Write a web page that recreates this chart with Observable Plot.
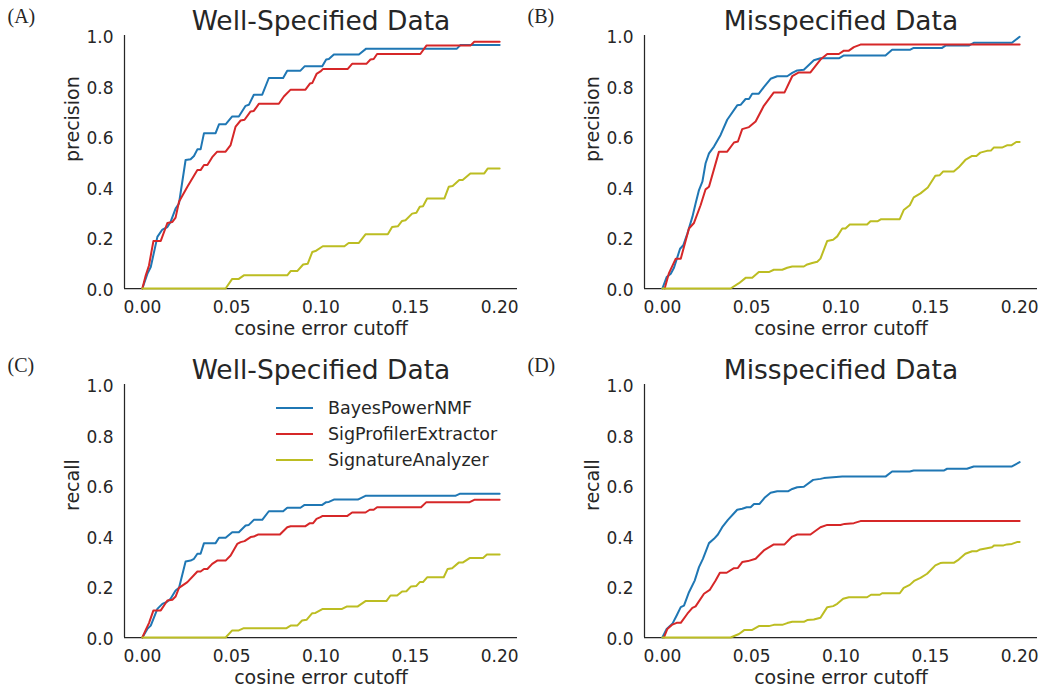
<!DOCTYPE html>
<html>
<head>
<meta charset="utf-8">
<script src="https://cdn.jsdelivr.net/npm/d3@7"></script>
<script src="https://cdn.jsdelivr.net/npm/@observablehq/plot@0.6"></script>
<style>
  html, body { margin: 0; padding: 0; background: #ffffff; }
  #wrap { position: relative; width: 1042px; height: 691px; overflow: hidden;
          font-family: "DejaVu Sans", sans-serif; color: #262626; }
  .panel { position: absolute; }
  .legend { position: absolute; left: 276px; top: 395px; font-family: "DejaVu Sans", sans-serif;
            font-size: 17.5px; color: #262626; }
  .legend .row { height: 26px; display: flex; align-items: center; white-space: nowrap; }
  .legend svg { margin-right: 15px; }
</style>
</head>
<body>
<div id="wrap"></div>
<script>
// ---------- data ----------
const seriesNames = ["BayesPowerNMF", "SigProfilerExtractor", "SignatureAnalyzer"];
const seriesColors = ["#1f77b4", "#d62728", "#bcbd22"];
const xTicks = [0, 0.05, 0.10, 0.15, 0.20];
const yTicks = [0, 0.2, 0.4, 0.6, 0.8, 1.0];
const xDomain = [-0.01, 0.21];
const yDomain = [0, 1];
const panelTitles = ["Well-Specified Data", "Misspecified Data", "Well-Specified Data", "Misspecified Data"];
const panelTags = ["(A)", "(B)", "(C)", "(D)"];
const yLabels = ["precision", "precision", "recall", "recall"];
const xLabel = "cosine error cutoff";

// (A) precision, well-specified
const precWellBayes = [[0,0],[0.0028,0.058],[0.0047,0.085],[0.0084,0.204],[0.0112,0.233],[0.014,0.243],[0.0158,0.263],[0.0186,0.316],[0.0205,0.336],[0.0242,0.508],[0.027,0.511],[0.0289,0.524],[0.0308,0.55],[0.0326,0.55],[0.0345,0.614],[0.041,0.614],[0.0429,0.649],[0.0466,0.649],[0.0503,0.68],[0.054,0.68],[0.0578,0.722],[0.0596,0.726],[0.0624,0.766],[0.0671,0.766],[0.0708,0.832],[0.0788,0.832],[0.0811,0.861],[0.0885,0.861],[0.0908,0.878],[0.1007,0.878],[0.1029,0.905],[0.1044,0.907],[0.1072,0.925],[0.1212,0.925],[0.1253,0.948],[0.1761,0.948],[0.178,0.962],[0.2,0.962]];
const precWellSigProf = [[0,0],[0.0019,0.052],[0.0037,0.091],[0.0062,0.188],[0.0103,0.188],[0.014,0.259],[0.0168,0.263],[0.0186,0.28],[0.0205,0.343],[0.0252,0.402],[0.0308,0.468],[0.0326,0.468],[0.0345,0.488],[0.0364,0.488],[0.0391,0.519],[0.0419,0.541],[0.0466,0.541],[0.0494,0.567],[0.0522,0.64],[0.055,0.664],[0.0572,0.667],[0.0606,0.7],[0.0624,0.702],[0.0652,0.73],[0.0764,0.73],[0.0792,0.759],[0.083,0.786],[0.0913,0.786],[0.0938,0.81],[0.0951,0.812],[0.0975,0.848],[0.0997,0.858],[0.1012,0.868],[0.115,0.868],[0.1174,0.888],[0.1254,0.888],[0.1277,0.905],[0.1295,0.907],[0.1314,0.927],[0.1556,0.927],[0.159,0.96],[0.1836,0.96],[0.1858,0.975],[0.2,0.975]];
const precWellSigAn = [[0,0],[0.0466,0],[0.0503,0.038],[0.054,0.038],[0.0568,0.052],[0.0811,0.052],[0.083,0.069],[0.0867,0.069],[0.09,0.095],[0.0926,0.098],[0.0951,0.144],[0.0969,0.148],[0.101,0.167],[0.1131,0.167],[0.1155,0.18],[0.1212,0.18],[0.1249,0.214],[0.1374,0.214],[0.1398,0.243],[0.143,0.246],[0.1454,0.267],[0.1473,0.27],[0.151,0.296],[0.1534,0.299],[0.1553,0.323],[0.1571,0.325],[0.1594,0.356],[0.1691,0.356],[0.1715,0.402],[0.1737,0.405],[0.1774,0.429],[0.1793,0.429],[0.1836,0.455],[0.1914,0.455],[0.1933,0.474],[0.2,0.474]];

// (B) precision, misspecified
const precMisBayes = [[0,0],[0.0024,0.045],[0.0047,0.058],[0.0065,0.082],[0.0099,0.157],[0.0117,0.171],[0.014,0.217],[0.0168,0.283],[0.0186,0.336],[0.0205,0.389],[0.0224,0.422],[0.0242,0.495],[0.0261,0.534],[0.0289,0.561],[0.0326,0.607],[0.0363,0.667],[0.0419,0.724],[0.0438,0.726],[0.0466,0.749],[0.0485,0.749],[0.0503,0.77],[0.054,0.77],[0.0568,0.796],[0.0606,0.829],[0.0643,0.839],[0.0699,0.839],[0.0727,0.852],[0.0755,0.862],[0.0792,0.865],[0.0848,0.902],[0.0885,0.91],[0.0988,0.91],[0.1016,0.921],[0.1249,0.921],[0.1286,0.944],[0.1388,0.944],[0.1407,0.951],[0.1566,0.951],[0.1585,0.96],[0.1715,0.96],[0.1743,0.971],[0.1957,0.971],[0.2,0.995]];
const precMisSigProf = [[0.0013,0],[0.0037,0.061],[0.0075,0.118],[0.0103,0.118],[0.0149,0.237],[0.0177,0.259],[0.0214,0.329],[0.0242,0.392],[0.0261,0.402],[0.0317,0.541],[0.0363,0.541],[0.0401,0.577],[0.0423,0.581],[0.0447,0.63],[0.0485,0.638],[0.0522,0.66],[0.0568,0.722],[0.0624,0.775],[0.0684,0.775],[0.0727,0.839],[0.0764,0.854],[0.0829,0.854],[0.0885,0.905],[0.0923,0.927],[0.0988,0.927],[0.1016,0.94],[0.1044,0.94],[0.1072,0.954],[0.1109,0.964],[0.2,0.964]];
const precMisSigAn = [[0,0],[0.0382,0],[0.0429,0.021],[0.0466,0.042],[0.0503,0.042],[0.054,0.065],[0.0596,0.065],[0.0624,0.074],[0.0671,0.074],[0.0699,0.082],[0.0727,0.087],[0.0792,0.087],[0.0811,0.095],[0.0839,0.101],[0.0867,0.106],[0.0885,0.118],[0.0923,0.188],[0.0956,0.193],[0.0979,0.206],[0.1007,0.237],[0.1025,0.237],[0.1049,0.253],[0.1146,0.253],[0.1165,0.266],[0.1206,0.266],[0.1225,0.274],[0.1329,0.274],[0.1351,0.31],[0.1385,0.329],[0.1407,0.36],[0.1445,0.376],[0.1486,0.399],[0.1528,0.446],[0.1553,0.448],[0.1571,0.462],[0.1631,0.462],[0.1659,0.479],[0.1696,0.508],[0.1734,0.524],[0.1758,0.524],[0.178,0.537],[0.1817,0.544],[0.1839,0.545],[0.1855,0.557],[0.1901,0.557],[0.1929,0.566],[0.1953,0.566],[0.1981,0.579],[0.2,0.579]];

// (C) recall, well-specified
const recWellBayes = [[0,0],[0.0028,0.034],[0.0047,0.047],[0.0084,0.113],[0.0112,0.133],[0.014,0.142],[0.0158,0.153],[0.0186,0.186],[0.0205,0.196],[0.0242,0.3],[0.027,0.304],[0.0289,0.311],[0.0308,0.331],[0.0326,0.331],[0.0345,0.373],[0.041,0.373],[0.0429,0.394],[0.0466,0.394],[0.0503,0.416],[0.054,0.416],[0.0578,0.443],[0.0596,0.445],[0.0624,0.465],[0.0671,0.465],[0.0708,0.499],[0.0788,0.499],[0.0811,0.513],[0.0885,0.513],[0.0908,0.524],[0.1007,0.524],[0.1029,0.535],[0.1044,0.536],[0.1072,0.545],[0.1206,0.545],[0.1249,0.56],[0.1752,0.56],[0.1776,0.568],[0.2,0.568]];
const recWellSigProf = [[0,0],[0.0019,0.03],[0.0037,0.057],[0.0062,0.107],[0.0103,0.107],[0.014,0.146],[0.0168,0.149],[0.0186,0.162],[0.0205,0.196],[0.0252,0.219],[0.0308,0.261],[0.0326,0.261],[0.0345,0.271],[0.0364,0.271],[0.0391,0.291],[0.0419,0.304],[0.0466,0.304],[0.0494,0.324],[0.0531,0.37],[0.055,0.377],[0.0572,0.381],[0.0606,0.397],[0.0624,0.399],[0.0647,0.407],[0.077,0.407],[0.0811,0.436],[0.083,0.44],[0.0913,0.44],[0.0938,0.452],[0.0956,0.452],[0.0975,0.469],[0.0997,0.476],[0.1007,0.48],[0.1146,0.48],[0.1174,0.494],[0.1249,0.494],[0.1273,0.505],[0.1295,0.505],[0.1314,0.515],[0.156,0.515],[0.159,0.535],[0.1832,0.535],[0.1858,0.544],[0.2,0.544]];
const recWellSigAn = [[0,0],[0.0466,0],[0.0503,0.028],[0.054,0.028],[0.0568,0.037],[0.0807,0.037],[0.083,0.047],[0.0867,0.047],[0.0894,0.067],[0.0919,0.07],[0.0951,0.096],[0.0969,0.097],[0.101,0.113],[0.1118,0.113],[0.1146,0.123],[0.1206,0.123],[0.1249,0.144],[0.1366,0.144],[0.1389,0.166],[0.1426,0.166],[0.1454,0.182],[0.1478,0.183],[0.1504,0.202],[0.1534,0.204],[0.1553,0.219],[0.1571,0.219],[0.1594,0.238],[0.1687,0.238],[0.1709,0.271],[0.1734,0.274],[0.1771,0.296],[0.1793,0.296],[0.1832,0.314],[0.1907,0.314],[0.1929,0.328],[0.2,0.328]];

// (D) recall, misspecified
const recMisBayes = [[0,0],[0.0024,0.034],[0.0056,0.054],[0.008,0.087],[0.0103,0.12],[0.0121,0.126],[0.0149,0.179],[0.0181,0.225],[0.0205,0.278],[0.0227,0.311],[0.0261,0.373],[0.0289,0.39],[0.0311,0.407],[0.0335,0.436],[0.0367,0.465],[0.0401,0.491],[0.0419,0.505],[0.0447,0.509],[0.0472,0.515],[0.0494,0.515],[0.0513,0.528],[0.0544,0.528],[0.0572,0.552],[0.0606,0.572],[0.0643,0.578],[0.0703,0.578],[0.0727,0.587],[0.0755,0.594],[0.0792,0.596],[0.0844,0.623],[0.0885,0.627],[0.0904,0.63],[0.1007,0.636],[0.1249,0.636],[0.1286,0.656],[0.1385,0.656],[0.1407,0.66],[0.1575,0.66],[0.1594,0.667],[0.1705,0.667],[0.1743,0.676],[0.1957,0.676],[0.2,0.693]];
const recMisSigProf = [[0.0009,0],[0.0028,0.034],[0.0056,0.051],[0.008,0.058],[0.0103,0.058],[0.014,0.094],[0.0168,0.117],[0.0186,0.123],[0.0233,0.173],[0.0265,0.188],[0.0298,0.225],[0.0322,0.256],[0.036,0.256],[0.0401,0.274],[0.0423,0.275],[0.0447,0.298],[0.0479,0.302],[0.0522,0.311],[0.0568,0.344],[0.0624,0.368],[0.0684,0.368],[0.0727,0.399],[0.0755,0.407],[0.0829,0.407],[0.0885,0.436],[0.0923,0.445],[0.0997,0.445],[0.102,0.449],[0.1072,0.452],[0.1109,0.46],[0.2,0.46]];
const recMisSigAn = [[0,0],[0.0382,0],[0.0429,0.014],[0.046,0.03],[0.0503,0.03],[0.054,0.045],[0.0596,0.045],[0.0624,0.05],[0.0671,0.05],[0.0699,0.057],[0.0727,0.062],[0.0792,0.062],[0.0811,0.069],[0.0848,0.071],[0.0885,0.078],[0.0923,0.12],[0.0956,0.124],[0.0979,0.133],[0.1012,0.153],[0.1044,0.159],[0.1146,0.159],[0.1168,0.169],[0.1217,0.169],[0.123,0.175],[0.1329,0.175],[0.1351,0.196],[0.1385,0.208],[0.1412,0.225],[0.1445,0.236],[0.1482,0.252],[0.1528,0.285],[0.1556,0.294],[0.1571,0.295],[0.1631,0.295],[0.1659,0.308],[0.1696,0.331],[0.1734,0.341],[0.1761,0.341],[0.178,0.348],[0.1817,0.353],[0.1845,0.357],[0.1858,0.364],[0.191,0.364],[0.1929,0.368],[0.1957,0.37],[0.1985,0.377],[0.2,0.377]];

const panelSeries = [
  [precWellBayes, precWellSigProf, precWellSigAn],
  [precMisBayes, precMisSigProf, precMisSigAn],
  [recWellBayes, recWellSigProf, recWellSigAn],
  [recMisBayes, recMisSigProf, recMisSigAn]
];

// ---------- drawing ----------
const wrap = document.getElementById("wrap");
const panelLeft = [0, 520, 0, 520];
const panelTop = [0, 0, 349, 349];

panelSeries.forEach((series, p) => {
  const rows = [];
  series.forEach((pts, s) => pts.forEach(([x, y]) => rows.push({x, y, series: seriesNames[s]})));
  const chart = Plot.plot({
    width: 522,
    height: 340,
    marginLeft: 124,
    marginRight: 5,
    marginTop: 35,
    marginBottom: 52,
    style: {background: "transparent", color: "#262626", fontFamily: "DejaVu Sans, sans-serif", overflow: "visible"},
    x: {domain: xDomain, label: null},
    y: {domain: yDomain, label: null},
    color: {domain: seriesNames, range: seriesColors},
    marks: [
      Plot.axisX({ticks: xTicks, tickFormat: d3.format(".2f"), tickSize: 0, tickPadding: 12, fontSize: 17, label: null}),
      Plot.axisY({ticks: yTicks, tickFormat: d3.format(".1f"), tickSize: 0, tickPadding: 11, fontSize: 17, dy: 2, label: null}),
      Plot.ruleY([yDomain[0]], {stroke: "#262626", strokeWidth: 1.25}),
      Plot.ruleX([xDomain[0]], {stroke: "#262626", strokeWidth: 1.25}),
      Plot.line(rows, {x: "x", y: "y", z: "series", stroke: "series", strokeWidth: 2, curve: "linear"}),
      Plot.text([panelTitles[p]], {frameAnchor: "top", lineAnchor: "bottom", dy: -6, fontSize: 26.5, fill: "#262626"}),
      Plot.text([yLabels[p]], {frameAnchor: "left", rotate: -90, dx: -52, lineAnchor: "middle", fontSize: 19, fill: "#262626"}),
      Plot.text([xLabel], {frameAnchor: "bottom", lineAnchor: "bottom", dy: 46, fontSize: 19, fill: "#262626"}),
      Plot.text([panelTags[p]], {frameAnchor: "top-left", textAnchor: "start", lineAnchor: "bottom", dx: -117, dy: -13, fontSize: 20, fontFamily: "Liberation Serif, DejaVu Serif, serif", fill: "#262626"})
    ]
  });
  chart.classList.add("panel");
  chart.style.left = panelLeft[p] + "px";
  chart.style.top = panelTop[p] + "px";
  wrap.appendChild(chart);
});

// legend (panel C)
const legend = document.createElement("div");
legend.className = "legend";
seriesNames.forEach((name, i) => {
  const row = document.createElement("div");
  row.className = "row";
  row.innerHTML = `<svg width="37" height="4"><line x1="0" x2="37" y1="2" y2="2" stroke="${seriesColors[i]}" stroke-width="2"/></svg><span>${name}</span>`;
  legend.appendChild(row);
});
wrap.appendChild(legend);
</script>
</body>
</html>
